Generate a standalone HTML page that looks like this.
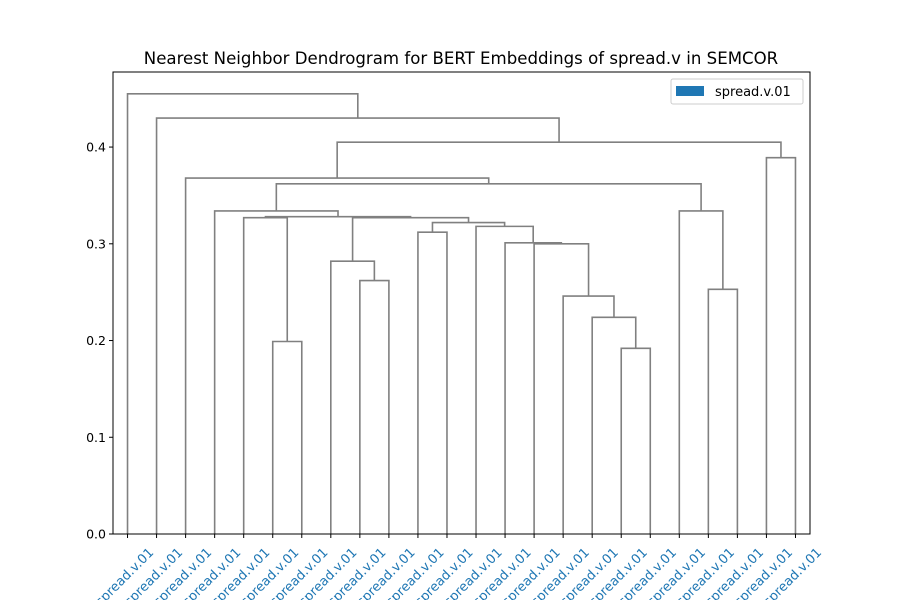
<!DOCTYPE html>
<html><head><meta charset="utf-8"><style>
body{margin:0;background:#fff;}
svg{display:block;font-family:"DejaVu Sans","Liberation Sans",sans-serif;}
</style></head><body>
<svg id="chart" width="900" height="600" viewBox="0 0 900 600" xmlns="http://www.w3.org/2000/svg">
<rect width="900" height="600" fill="#fff"/>
<text x="461" y="64" text-anchor="middle" font-size="16.6">Nearest Neighbor Dendrogram for BERT Embeddings of spread.v in SEMCOR</text>
<g id="links"></g>
<g id="yaxis"></g>
<g id="xlabels"></g>
<rect x="113" y="72" width="697" height="462" fill="none" stroke="#000" stroke-width="1"/>
<g>
<rect x="671" y="79" width="132" height="25" rx="2" fill="#fff" stroke="#ccc"/>
<rect x="676" y="86" width="28" height="10" fill="#1f77b4"/>
<text x="715" y="96" font-size="13">spread.v.01</text>
</g>
</svg>
<script>
const leafLabels = ["spread.v.01","spread.v.01","spread.v.01","spread.v.01","spread.v.01","spread.v.01","spread.v.01","spread.v.01","spread.v.01","spread.v.01","spread.v.01","spread.v.01","spread.v.01","spread.v.01","spread.v.01","spread.v.01","spread.v.01","spread.v.01","spread.v.01","spread.v.01","spread.v.01","spread.v.01","spread.v.01","spread.v.01"];
const mergeLeft  = [22,20,19,17,16,15,14,13,12,10,33, 5,4, 8,7,38,36, 3,41, 2,43, 1, 0];
const mergeRight = [23,21,25,18,27,28,29,30,31,11,32, 6,35,9,37,34,39,40,26,42,24,44,45];
const mergeHeight= [0.389,0.253,0.334,0.192,0.224,0.246,0.300,0.301,0.318,0.312,0.322,0.199,0.327,0.262,0.282,0.327,0.328,0.334,0.362,0.368,0.405,0.430,0.455];
const yTicks = [0.0,0.1,0.2,0.3,0.4];
const yTickLabels = ["0.0","0.1","0.2","0.3","0.4"];

const NS="http://www.w3.org/2000/svg";
const X0=113,X1=810,Y0=534,Y1=72;
const yMax=0.4776;
const n=leafLabels.length;
const xs=i=>X0+(i+0.5)*(X1-X0)/n;
const ys=v=>Y0-v/yMax*(Y0-Y1);
const nodeX=[],nodeH=[];
for(let i=0;i<n;i++){nodeX.push(xs(i));nodeH.push(0);}
const links=document.getElementById('links');
for(let k=0;k<mergeLeft.length;k++){
  const a=mergeLeft[k],b=mergeRight[k],h=mergeHeight[k];
  const xa=nodeX[a],xb=nodeX[b];
  const p=document.createElementNS(NS,'path');
  p.setAttribute('d',`M${xa},${ys(nodeH[a])}V${ys(h)}H${xb}V${ys(nodeH[b])}`);
  p.setAttribute('fill','none');p.setAttribute('stroke','#808080');p.setAttribute('stroke-width','1.6');
  
  
  links.appendChild(p);
  nodeX.push((xa+xb)/2);nodeH.push(h);
}
const ya=document.getElementById('yaxis');
yTicks.forEach((t,i)=>{
  const y=ys(t);
  const l=document.createElementNS(NS,'line');
  l.setAttribute('x1',X0-4);l.setAttribute('x2',X0);l.setAttribute('y1',y);l.setAttribute('y2',y);l.setAttribute('stroke','#000');
  
  
  ya.appendChild(l);
  const tx=document.createElementNS(NS,'text');
  tx.setAttribute('x',X0-7);tx.setAttribute('y',y+4.5);tx.setAttribute('text-anchor','end');tx.setAttribute('font-size','12.5');
  tx.textContent=yTickLabels[i];
  
  
  ya.appendChild(tx);
});
const xl=document.getElementById('xlabels');
leafLabels.forEach((s,i)=>{
  const x=xs(i);
  const l=document.createElementNS(NS,'line');
  l.setAttribute('x1',x);l.setAttribute('x2',x);l.setAttribute('y1',Y0);l.setAttribute('y2',Y0+4);l.setAttribute('stroke','#000');
  
  
  xl.appendChild(l);
  const tx=document.createElementNS(NS,'text');
  tx.setAttribute('transform',`translate(${x},${Y0+46}) rotate(-45)`);
  tx.setAttribute('text-anchor','middle');tx.setAttribute('font-size','13');tx.setAttribute('fill','#1f77b4');
  tx.textContent=s;
  
  
  xl.appendChild(tx);
});
</script>
</body></html>
